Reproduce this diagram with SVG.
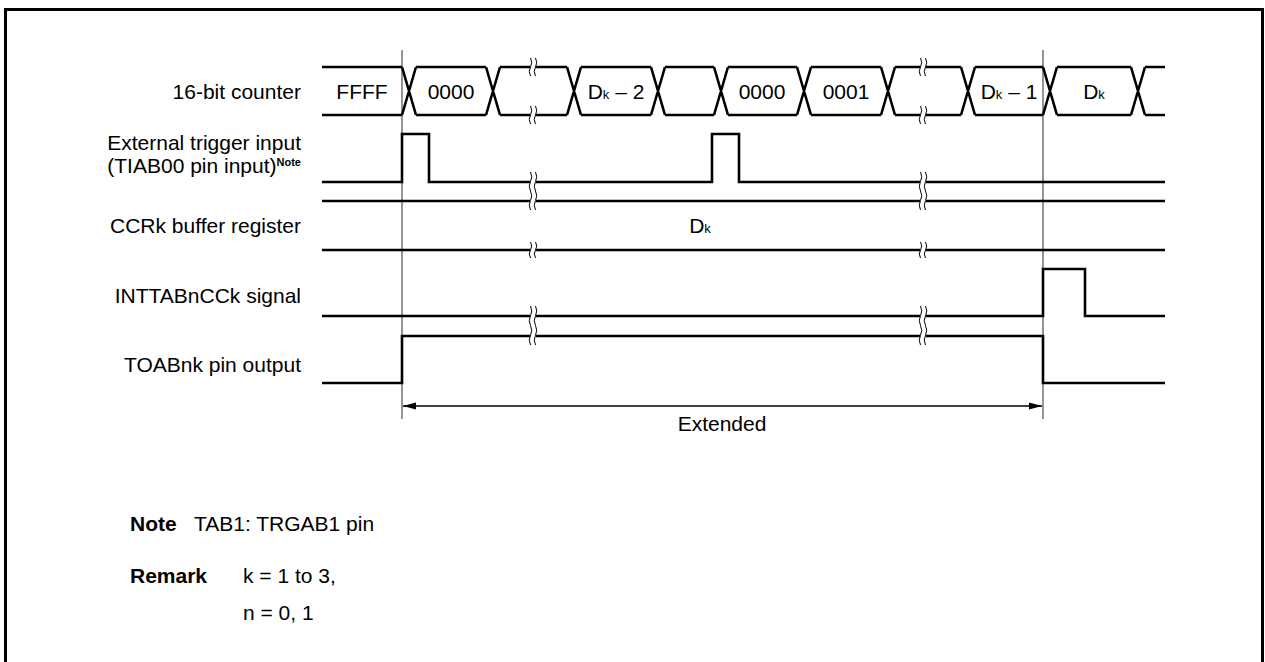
<svg xmlns="http://www.w3.org/2000/svg" width="1265" height="662" viewBox="0 0 1265 662">
<style>
.sig{fill:none;stroke:#000;stroke-width:2.6;stroke-linejoin:miter}
.guide{stroke:#7a7a7a;stroke-width:1.6}
.brk{fill:none;stroke:#000;stroke-width:1}
.gap{fill:#fff;stroke:none}
.lbl{font-family:"Liberation Sans",Arial,sans-serif;font-size:21px;fill:#000}
.b{font-weight:bold}
</style>
<defs>
<marker id="ah" markerUnits="userSpaceOnUse" markerWidth="14" markerHeight="8" refX="13" refY="4" orient="auto-start-reverse">
<path d="M0,0.5 L13,4 L0,7.5 Z" fill="#000"/>
</marker>
</defs>
<rect x="5.5" y="9.5" width="1257" height="670" fill="#fff" stroke="#000" stroke-width="3"/>

<g id="guides">
<line class="guide" x1="402" y1="50" x2="402" y2="419"/>
<line class="guide" x1="1043" y1="50" x2="1043" y2="419"/>
</g>

<g id="labels">
<text class="lbl" x="301" y="99" text-anchor="end">16-bit counter</text>
<text class="lbl" x="301" y="150" text-anchor="end">External trigger input</text>
<text class="lbl" x="301" y="173" text-anchor="end">(TIAB00 pin input)<tspan class="b" font-size="11" dy="-7">Note</tspan></text>
<text class="lbl" x="301" y="233" text-anchor="end">CCRk buffer register</text>
<text class="lbl" x="301" y="303" text-anchor="end">INTTABnCCk signal</text>
<text class="lbl" x="301" y="372" text-anchor="end">TOABnk pin output</text>
</g>

<g id="counter">
<path class="sig" d="M322,67H402M322,115H402 M402,67L416,115M402,115L416,67 M416,67H486M416,115H486 M486,67L500,115M486,115L500,67 M500,67H567M500,115H567 M567,67L581,115M567,115L581,67 M581,67H651M581,115H651 M651,67L665,115M651,115L665,67 M665,67H714M665,115H714 M714,67L728,115M714,115L728,67 M728,67H797M728,115H797 M797,67L811,115M797,115L811,67 M811,67H881M811,115H881 M881,67L895,115M881,115L895,67 M895,67H961M895,115H961 M961,67L975,115M961,115L975,67 M975,67H1043M975,115H1043 M1043,67L1057,115M1043,115L1057,67 M1057,67H1131M1057,115H1131 M1131,67L1145,115M1131,115L1145,67 M1145,67H1165M1145,115H1165"/>
<text class="lbl" x="362" y="99" text-anchor="middle">FFFF</text>
<text class="lbl" x="451" y="99" text-anchor="middle">0000</text>
<text class="lbl" x="616" y="99" text-anchor="middle">D<tspan font-size="13">k</tspan> – 2</text>
<text class="lbl" x="762" y="99" text-anchor="middle">0000</text>
<text class="lbl" x="846" y="99" text-anchor="middle">0001</text>
<text class="lbl" x="1009" y="99" text-anchor="middle">D<tspan font-size="13">k</tspan> – 1</text>
<text class="lbl" x="1094" y="99" text-anchor="middle">D<tspan font-size="13">k</tspan></text>
</g>

<g id="trigger">
<path class="sig" d="M322,182H402V134H429V182H712V134H739V182H1165"/>
</g>

<g id="ccrk">
<path class="sig" d="M322,201H1165M322,250H1165"/>
<text class="lbl" x="700" y="233" text-anchor="middle">D<tspan font-size="13">k</tspan></text>
</g>

<g id="inttab">
<path class="sig" d="M322,316H1043V269H1085V316H1165"/>
</g>

<g id="toab">
<path class="sig" d="M322,383H402V336H1043V383H1165"/>
</g>

<g id="breaks">
<rect class="gap" x="530" y="62" width="6" height="10"/>
<rect class="gap" x="530" y="110" width="6" height="10"/>
<rect class="gap" x="530" y="176" width="6" height="30"/>
<rect class="gap" x="530" y="245" width="6" height="10"/>
<rect class="gap" x="530" y="310" width="6" height="32"/>
<rect class="gap" x="920" y="62" width="6" height="10"/>
<rect class="gap" x="920" y="110" width="6" height="10"/>
<rect class="gap" x="920" y="176" width="6" height="30"/>
<rect class="gap" x="920" y="245" width="6" height="10"/>
<rect class="gap" x="920" y="310" width="6" height="32"/>
<path class="brk" d="M530.5,58q2.5,4.5 0,9q-2.5,4.5 0,9 M535.5,58q2.5,4.5 0,9q-2.5,4.5 0,9
M530.5,106q2.5,4.5 0,9q-2.5,4.5 0,9 M535.5,106q2.5,4.5 0,9q-2.5,4.5 0,9
M530.5,172q2.5,4.75 0,9.5q-2.5,4.75 0,9.5q2.5,4.75 0,9.5q-2.5,4.75 0,9.5 M535.5,172q2.5,4.75 0,9.5q-2.5,4.75 0,9.5q2.5,4.75 0,9.5q-2.5,4.75 0,9.5
M530.5,242q2.5,4 0,8q-2.5,4 0,8 M535.5,242q2.5,4 0,8q-2.5,4 0,8
M530.5,306q2.5,4.9 0,9.75q-2.5,4.9 0,9.75q2.5,4.9 0,9.75q-2.5,4.9 0,9.75 M535.5,306q2.5,4.9 0,9.75q-2.5,4.9 0,9.75q2.5,4.9 0,9.75q-2.5,4.9 0,9.75"/>
<path class="brk" d="M920.5,58q2.5,4.5 0,9q-2.5,4.5 0,9 M925.5,58q2.5,4.5 0,9q-2.5,4.5 0,9
M920.5,106q2.5,4.5 0,9q-2.5,4.5 0,9 M925.5,106q2.5,4.5 0,9q-2.5,4.5 0,9
M920.5,172q2.5,4.75 0,9.5q-2.5,4.75 0,9.5q2.5,4.75 0,9.5q-2.5,4.75 0,9.5 M925.5,172q2.5,4.75 0,9.5q-2.5,4.75 0,9.5q2.5,4.75 0,9.5q-2.5,4.75 0,9.5
M920.5,242q2.5,4 0,8q-2.5,4 0,8 M925.5,242q2.5,4 0,8q-2.5,4 0,8
M920.5,306q2.5,4.9 0,9.75q-2.5,4.9 0,9.75q2.5,4.9 0,9.75q-2.5,4.9 0,9.75 M925.5,306q2.5,4.9 0,9.75q-2.5,4.9 0,9.75q2.5,4.9 0,9.75q-2.5,4.9 0,9.75"/>
</g>

<g id="connectors">
<line x1="403" y1="406" x2="1042" y2="406" stroke="#000" stroke-width="1.3" marker-start="url(#ah)" marker-end="url(#ah)"/>
<text class="lbl" x="722" y="431" text-anchor="middle">Extended</text>
</g>

<g id="notes">
<text class="lbl b" x="130" y="531">Note</text>
<text class="lbl" x="194" y="531">TAB1:  TRGAB1 pin</text>
<text class="lbl b" x="130" y="583">Remark</text>
<text class="lbl" x="243" y="583">k = 1 to 3,</text>
<text class="lbl" x="243" y="620">n = 0, 1</text>
</g>
</svg>
